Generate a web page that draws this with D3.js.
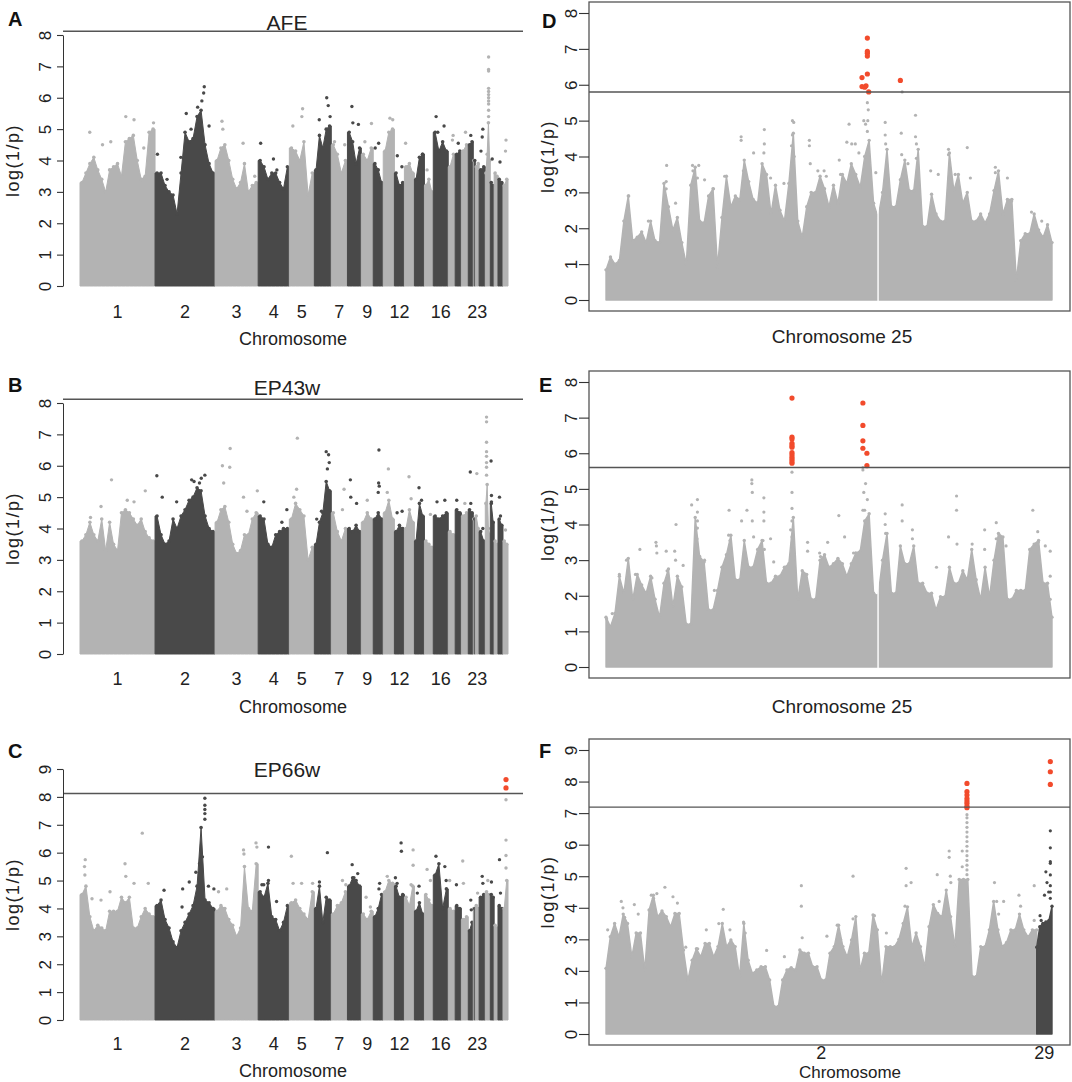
<!DOCTYPE html>
<html>
<head>
<meta charset="utf-8">
<script src="https://cdn.jsdelivr.net/npm/d3@7"></script>
<style>
body { margin: 0; background: #fff; }
text { font-family: "Liberation Sans", Arial, sans-serif; }
</style>
</head>
<body>
<svg id="fig" width="1072" height="1082"></svg>
<script>
// ---- genome wide panels (A-C) ----
const chroms = ["1","2","3","4","5","6","7","8","9","10","11","12","13","14","15","16","17","18","19","20","21","22","23","24","25","26","27","28","29"];
const chromLen = [195, 156, 112, 81, 65, 44, 42, 36, 31, 26, 29, 26, 26, 26, 23, 39, 18, 16, 18, 13, 2.6, 2.6, 10, 16, 13, 10, 10, 13, 13];
const shownChroms = ["1","2","3","4","5","7","9","12","16","23"];
const genomeThreshold = 8.12;

// top of the dense SNP cloud, evenly along each chromosome
const afeBand = [
  [3.3,3.6,3.9,4.1,3.7,3.4,3.0,3.7,3.8,3.9,3.5,4.6,4.7,4.8,4.0,3.4,3.5,4.9,5.0],
  [3.6,3.6,3.2,3.0,2.9,2.3,3.6,4.9,4.6,4.7,5.4,5.6,4.5,3.9,3.6],
  [4.0,4.4,4.5,4.0,3.4,3.1,3.3,3.9,3.0,3.2,3.3],
  [4.0,3.8,3.4,3.6,3.6,3.3,3.1,3.8],
  [4.4,4.3,4.0,4.6,2.9,3.6],
  [3.7,4.8,4.4,5.0,5.1],
  [4.5,4.2,3.6,4.0],
  [4.9,4.6,3.9,4.4],
  [4.2,4.0,4.4],
  [3.9,3.7,3.3],
  [4.3,4.9,5.0],
  [3.6,3.2,3.3],
  [3.8,3.9,3.6],
  [3.4,4.1,4.2],
  [3.2,3.4,3.0],
  [4.9,4.3,4.6,4.3],
  [3.8,4.2],[4.2,4.3],[4.3,4.5],[4.5,4.6],[4.0],[4.0],[3.8,3.9],[3.7,3.8],
  [3.6,4.2,5.2,4.0],
  [3.3,3.2],[3.6,3.5],[3.4,3.3],[3.2,3.4]
];
// single SNPs above the cloud: [chromosome, relative position, log(1/p)]
const afePeaks = [
  [1,0.13,4.9],[1,0.72,5.3],[1,0.61,5.4],[1,0.98,5.2],[1,0.41,4.6],[1,0.3,4.5],[1,0.85,4.4],
  [2,0.04,4.2],[2,0.52,5.5],[2,0.82,6.35],[2,0.81,6.15],[2,0.71,5.7],[2,0.78,5.9],[2,0.9,5.1],[2,0.43,4.1],[2,0.2,3.4],[2,0.6,5.0],
  [3,0.16,5.25],[3,0.18,5.0],[3,0.65,4.55],[3,0.92,3.5],
  [4,0.08,4.55],[4,0.49,4.05],[4,0.6,3.7],
  [5,0.14,5.1],[5,0.53,5.65],[5,0.5,5.4],
  [6,0.29,5.3],[6,0.73,6.0],[6,0.82,5.75],[6,0.93,5.4],
  [7,0.2,4.6],[7,0.83,4.5],
  [8,0.32,5.72],[8,0.39,5.2],[8,0.79,5.15],
  [9,0.85,5.18],[9,0.3,4.6],
  [10,0.54,4.55],[10,0.2,4.4],
  [11,0.6,5.35],[11,0.85,5.3],
  [12,0.29,4.15],[12,0.75,3.8],
  [13,0.12,4.55],[14,0.8,4.2],[15,0.3,3.7],
  [16,0.19,5.4],[16,0.72,5.1],[16,0.3,4.9],
  [17,0.7,4.8],[17,0.6,4.65],[18,0.5,4.55],[19,0.6,4.9],[20,0.5,4.8],
  [24,0.3,4.3],[24,0.6,5.0],[24,0.5,4.75],
  [25,0.66,7.3],[25,0.66,6.9],[25,0.66,6.85],[25,0.66,6.3],[25,0.66,6.2],[25,0.66,6.1],[25,0.66,6.0],[25,0.66,5.9],[25,0.66,5.8],[25,0.66,5.6],[25,0.66,5.4],
  [26,0.5,4.05],[28,0.4,3.95],[29,0.6,4.65],[29,0.5,4.3]
];

const ep43Band = [
  [3.6,3.8,4.2,3.8,3.6,4.3,3.3,4.2,3.5,3.3,4.5,4.6,4.5,4.3,4.1,4.3,3.9,3.7,3.6],
  [4.4,3.8,3.5,3.6,4.3,4.0,4.4,4.6,4.9,5.0,5.3,5.2,4.4,4.0,3.9],
  [4.2,4.6,4.7,4.2,3.5,3.2,3.3,3.8,3.8,4.3,4.5],
  [4.4,4.3,3.5,3.4,3.8,3.9,4.0,4.0],
  [4.3,4.8,4.6,4.4,3.0,3.4],
  [3.5,4.2,4.5,5.5,5.2],
  [4.5,3.9,3.6,4.0],
  [4.0,3.9,4.1,3.9],
  [4.2,4.5,4.3],
  [4.3,4.5,4.3],
  [4.5,4.9,4.3],
  [3.9,4.1,4.0],
  [4.0,4.6,4.2],
  [3.6,4.8,4.4],
  [3.6,3.5,3.4],
  [4.4,4.3,4.4,4.5],
  [3.9,3.8],[4.6,4.5],[4.4,4.5],[4.6,4.5],[4.3],[4.3],[4.4,4.0],[3.9,3.6],
  [4.8,5.4,4.0,3.8],
  [4.8,4.2],[3.6,3.5],[4.3,4.1],[3.6,3.5]
];
const ep43Peaks = [
  [1,0.42,5.55],[1,0.28,4.7],[1,0.87,5.2],[1,0.63,4.9],[1,0.72,4.85],[1,0.14,4.35],
  [2,0.03,5.68],[2,0.12,5.0],[2,0.36,4.85],[2,0.61,5.55],[2,0.65,5.5],[2,0.74,5.45],[2,0.83,5.7],[2,0.77,5.6],
  [3,0.35,6.55],[3,0.17,6.0],[3,0.34,5.95],[3,0.2,5.45],[3,0.66,5.0],[3,0.98,5.2],[3,0.74,4.55],
  [4,0.18,4.85],[4,0.92,4.6],[4,0.76,4.2],
  [5,0.29,5.25],[5,0.32,6.88],[5,0.18,5.0],
  [6,0.14,4.3],[6,0.7,6.45],[6,0.84,6.35],[6,0.88,6.1],[6,0.77,5.9],[6,0.42,4.55],
  [7,0.79,5.25],[7,0.69,4.6],
  [8,0.21,5.55],[8,0.24,5.0],[8,0.66,4.8],
  [9,0.5,4.9],
  [10,0.57,6.5],[10,0.54,5.45],[10,0.6,5.35],[10,0.5,5.15],
  [11,0.46,5.9],[11,0.36,5.15],
  [12,0.27,4.5],[12,0.77,4.55],
  [13,0.46,5.65],[13,0.67,4.95],
  [14,0.46,5.3],[14,0.71,4.9],
  [15,0.68,4.45],
  [16,0.25,4.85],[16,0.77,4.9],
  [18,0.25,4.9],[19,0.5,4.8],[20,0.4,5.8],[20,0.5,4.8],[23,0.4,5.75],[24,0.6,4.0],
  [25,0.25,7.55],[25,0.25,7.4],[25,0.25,6.75],[25,0.25,6.45],[25,0.25,6.3],[25,0.25,6.1],[25,0.25,5.95],[25,0.25,5.7],
  [26,0.2,6.15],[26,0.3,5.05],[26,0.3,4.85],
  [28,0.3,5.0],[28,0.5,4.4],[29,0.5,3.95]
];

const ep66Band = [
  [4.5,4.8,3.7,3.2,3.4,3.3,3.2,3.9,3.9,3.9,4.4,4.2,4.4,3.3,3.3,3.7,4.0,3.8,3.7],
  [4.1,4.3,3.6,3.3,2.8,2.6,3.2,3.5,3.8,4.1,4.8,6.9,4.3,4.2,4.0],
  [3.9,4.1,4.0,3.6,3.4,3.0,3.3,5.5,4.0,3.9,5.6],
  [4.6,4.4,4.9,3.7,3.6,3.2,3.5,4.1],
  [4.2,4.3,4.0,3.8,3.6,4.6],
  [4.0,4.8,3.5,4.4,4.3],
  [3.8,4.1,4.2,4.6],
  [4.8,5.1,5.0,4.8],
  [3.8,3.6,3.9],
  [3.7,4.0,4.5],
  [4.6,5.0,4.9],
  [4.8,4.4,4.5],
  [4.4,4.1,4.8],
  [3.9,4.2,3.8],
  [4.5,4.3,4.1],
  [5.2,5.6,4.0,4.7],
  [4.0,3.9],[4.1,4.0],[3.6,3.7],[3.2,3.5],[4.0],[4.0],[4.1,4.0],[4.4,4.5],
  [4.6,4.5],
  [4.5,4.4],[3.4,3.3],[4.1,4.0],[4.0,5.0]
];
const ep66Peaks = [
  [1,0.07,5.75],[1,0.06,5.5],[1,0.065,5.2],[1,0.28,4.3],[1,0.4,4.6],[1,0.6,5.6],[1,0.61,5.15],[1,0.72,4.9],[1,0.83,6.7],[1,0.91,4.9],[1,0.16,4.35],
  [2,0.15,4.65],[2,0.45,4.05],[2,0.46,4.7],[2,0.57,4.95],[2,0.68,5.3],[2,0.74,5.6],[2,0.79,5.85],[2,0.83,7.95],[2,0.83,7.7],[2,0.83,7.55],[2,0.83,7.4],[2,0.83,7.2],[2,0.89,4.8],[2,0.98,4.7],
  [3,0.66,6.1],[3,0.67,5.95],[3,0.95,6.35],[3,0.97,6.2],[3,0.27,4.7],[3,0.08,4.6],
  [4,0.33,6.2],[4,0.12,4.85],[4,0.18,4.85],[4,0.33,5.0],[4,0.59,4.25],
  [5,0.08,5.87],[5,0.15,4.9],[5,0.49,4.9],[5,0.93,4.9],
  [6,0.3,4.95],[6,0.77,6.0],
  [7,0.69,5.0],[7,0.9,4.85],
  [8,0.34,5.57],[8,0.74,5.25],[8,0.47,5.1],
  [9,0.4,4.4],[9,0.76,4.05],
  [10,0.64,4.9],[10,0.57,4.7],
  [11,0.36,5.15],
  [12,0.67,6.35],[12,0.7,6.05],[12,0.1,5.1],[12,0.27,4.9],
  [13,0.87,6.1],[13,0.87,5.55],[13,0.67,4.85],
  [14,0.46,4.8],[14,0.29,4.55],
  [15,0.3,5.4],[15,0.68,5.0],
  [16,0.18,5.87],[16,0.77,5.5],[16,0.86,5.0],
  [17,0.2,5.0],[18,0.2,4.85],[19,0.2,5.7],[19,0.3,4.9],[20,0.5,4.3],[20,0.6,3.95],
  [23,0.6,4.55],[24,0.5,5.15],[24,0.6,4.9],[25,0.5,5.0],[26,0.3,4.95],
  [28,0.3,5.75],[28,0.5,4.55],
  [29,0.6,7.9],[29,0.6,6.45],[29,0.6,5.9],[29,0.6,5.45]
];
const ep66Sig = [[29,0.6,8.62],[29,0.6,8.32]];

// ---- chromosome 25 close-ups (D, E), position in % of the chromosome ----
const c25Len = [100];
// top of the SNP cloud every 1 % of the chromosome
const dTops = [0.84,1.2,1.0,1.1,2.2,2.9,1.65,1.75,1.9,1.6,2.2,1.65,1.6,3.25,2.6,1.95,2.3,1.6,1.0,3.2,
  3.7,2.2,2.15,2.9,3.1,0.93,2.3,3.45,2.6,2.9,2.8,3.9,3.3,2.8,2.7,3.8,3.5,2.4,3.2,2.5,
  2.2,3.25,4.65,2.2,1.75,2.6,3.0,3.0,3.45,3.1,2.6,3.2,2.7,3.5,3.25,3.8,3.5,3.15,4.0,4.45,
  2.7,2.3,3.0,4.2,2.6,2.6,3.35,3.9,3.05,3.05,4.2,2.05,2.05,2.95,2.4,2.2,2.2,4.1,3.05,3.5,
  2.7,3.0,2.2,2.2,2.4,2.15,2.4,3.05,3.6,2.4,2.8,2.8,0.55,1.65,1.85,1.85,2.4,1.95,1.75,2.1,1.6];
const dStreak = [[5.1,2.9],[9.5,2.2],[13.5,3.3],[13.6,3.75],[13.5,3.1],[15.6,2.7],[19.4,3.75],[19.5,3.6],[20.8,3.75],[20.5,3.4],[22.1,3.35],[24.1,3.1],[26.6,3.45],[30.3,4.55],[30.3,4.45],[30.8,3.6],[33.1,4.1],[35.5,4.75],[35.5,4.35],[35.4,4.1],[36.9,3.4],[39.9,3.25],[41.8,5.0],[42.1,4.95],[41.8,4.6],[41.6,4.3],[42.2,4.0],[45.6,4.45],[45.6,4.3],[45.8,3.8],[47.5,3.6],[48.9,3.6],[49.4,3.45],[52.3,3.9],[52.6,3.5],[54.5,4.9],[54.0,4.4],[55.1,4.35],[55.9,4.35],[56.7,4.1],[57.8,5.0],[58.2,4.9],[58.6,5.5],[58.8,5.3],[58.7,5.0],[58.6,4.7],[60.5,3.55],[62.6,4.95],[62.6,4.6],[62.7,4.35],[63.1,3.5],[66.2,4.65],[66.3,4.05],[66.4,5.8],[67.7,3.8],[69.4,5.15],[69.4,4.55],[69.6,4.35],[69.6,3.95],[72.8,3.6],[74.5,3.5],[76.8,4.2],[76.8,4.05],[77.2,3.65],[78.3,3.5],[81.0,4.25],[81.7,3.4],[87.3,3.7],[87.3,3.55],[90.0,3.4],[90.9,2.75],[95.4,2.45],[97.7,2.2]];
const dSig = [[58.6,7.3],[58.6,6.93],[58.6,6.88],[58.6,6.8],[58.6,6.3],[57.4,6.2],[57.4,5.95],[58.0,5.93],[58.3,5.97],[58.9,5.8],[66.0,6.12]];
const dGaps = [61];

const eTops = [1.4,1.13,1.5,2.55,2.07,3.05,1.9,2.6,2.3,2.07,2.55,1.9,1.4,2.35,2.75,1.7,2.55,2.25,1.2,1.2,
  4.2,3.1,2.95,1.6,1.6,2.15,2.8,3.15,3.7,2.45,2.45,3.55,2.8,2.8,3.3,3.55,2.35,2.35,2.55,2.55,
  2.8,2.9,4.2,1.9,2.7,2.6,1.9,1.9,3.0,3.15,2.8,2.9,3.05,2.9,2.55,2.9,3.2,3.25,4.1,4.3,
  2.07,2.0,3.0,3.75,2.07,2.07,3.4,2.9,2.9,3.4,2.35,2.35,2.07,2.07,1.6,1.97,1.97,2.8,2.35,2.35,
  2.7,2.45,3.3,2.45,1.9,2.8,1.97,3.0,3.75,3.65,1.9,1.9,2.15,2.15,2.15,3.3,3.45,3.55,2.35,2.35,1.4];
const eStreak = [[0.15,1.35],[1.4,1.5],[3.0,2.6],[4.6,3.0],[6.6,2.6],[7.6,3.3],[10.3,2.5],[11.2,3.5],[11.3,3.4],[11.4,3.2],[13.5,3.25],[13.7,2.7],[15.4,3.25],[15.7,4.0],[15.6,3.0],[17.3,2.85],[19.2,4.55],[20.5,4.7],[20.5,4.35],[20.5,4.1],[20.5,3.9],[20.4,3.6],[22.1,3.0],[24.3,2.15],[27.5,3.7],[27.6,4.4],[27.8,3.55],[30.4,4.1],[31.6,4.4],[32.7,5.25],[32.7,5.15],[32.8,4.9],[32.8,4.1],[33.1,3.65],[35.4,4.75],[35.4,4.35],[35.4,4.1],[35.2,3.55],[35.5,3.3],[36.9,3.6],[37.6,2.95],[41.7,4.9],[41.7,4.45],[41.7,4.1],[41.4,3.85],[41.7,3.65],[41.8,3.5],[41.7,3.4],[41.7,5.47],[45.2,3.5],[45.2,3.25],[47.9,3.2],[48.1,3.1],[49.7,3.5],[52.2,4.25],[53.5,3.65],[55.5,3.2],[57.6,4.4],[57.8,4.9],[58.2,5.15],[58.0,4.4],[57.6,5.6],[57.6,5.53],[58.6,4.7],[62.6,4.3],[62.6,4.0],[62.7,3.75],[66.4,4.55],[66.4,4.1],[68.7,3.85],[68.7,3.6],[74.1,2.8],[76.8,3.65],[78.6,4.8],[78.6,4.4],[78.7,3.45],[82.1,3.45],[84.9,3.85],[84.9,3.3],[87.5,4.05],[87.5,3.6],[89.7,3.4],[95.7,4.4],[96.8,3.8],[96.9,3.5],[98.5,3.4],[99.6,3.25],[99.6,2.55],[99.6,1.9]];
const eSig = [[41.7,7.55],[41.7,6.45],[41.7,6.4],[41.7,6.28],[41.7,6.22],[41.7,6.17],[41.7,6.02],[41.7,5.96],[41.7,5.89],[41.7,5.83],[41.7,5.77],[41.7,5.72],[57.6,7.41],[57.6,6.78],[57.6,6.35],[57.6,6.14],[58.5,6.0],[58.5,5.65]];
const eGaps = [61];

// ---- chromosomes 2 and 29 (F), position in Mb ----
const fChroms = ["2","29"];
const fLen = [155, 5.5];
const fTops = [
  [2.08,3.08,3.5,3.08,3.8,3.5,2.45,3.2,3.2,2.03,3.93,4.4,3.72,3.9,3.72,3.4,3.82,3.82,2.66,1.71,
   2.34,2.7,2.45,2.87,2.87,2.45,2.77,3.5,2.77,2.98,2.77,1.82,3.5,2.34,1.92,2.03,2.13,2.13,1.71,0.87,
   0.87,1.71,2.03,2.1,2.03,2.66,2.56,2.56,2.13,2.13,1.71,1.71,2.56,2.77,3.45,2.77,2.45,2.98,3.72,2.03,
   2.56,2.56,3.77,3.3,1.6,2.77,2.77,2.77,3.0,3.5,4.03,2.77,3.2,2.77,2.13,3.4,4.1,3.82,3.72,4.56,
   3.72,2.77,4.9,4.9,4.9,1.82,1.82,2.77,2.77,3.3,4.2,3.3,2.77,2.9,3.3,3.3,3.8,3.3,3.08,3.3,3.3],
  [2.75,3.4,3.5,3.55,3.6,4.05]
];
const fStreak = [[0,0.6,3.3],[0,5.5,4.2],[0,6.1,4.0],[0,6.7,3.7],[0,10.2,4.1],[0,11.6,3.8],[0,16.3,4.4],[0,17.1,4.3],[0,18.3,4.45],[0,21.2,4.65],[0,24.1,4.35],[0,25.7,4.15],[0,28.7,2.75],[0,33.0,2.7],[0,36.1,3.3],[0,40.6,3.5],[0,42.2,3.95],[0,44.6,3.3],[0,49.5,3.55],[0,50.1,3.2],[0,57.8,2.65],[0,64.2,2.45],[0,70.3,4.7],[0,70.3,4.05],[0,70.6,3.05],[0,79.5,3.1],[0,83.2,3.45],[0,84.4,3.0],[0,88.9,5.0],[0,88.9,3.65],[0,96.6,3.75],[0,100.9,3.2],[0,107.6,4.05],[0,108.0,5.25],[0,108.0,4.7],[0,109.8,4.8],[0,119.2,5.05],[0,119.9,4.2],[0,123.5,5.8],[0,123.5,5.6],[0,123.9,5.0],[0,124.1,4.8],[0,128.2,5.8],[0,128.2,5.3],
  [0,129.9,6.95],[0,129.9,6.85],[0,129.9,6.7],[0,129.9,6.55],[0,129.9,6.4],[0,129.9,6.25],[0,129.9,6.1],[0,129.9,5.95],[0,129.9,5.8],[0,129.9,5.65],[0,129.9,5.5],[0,129.9,5.35],[0,129.9,5.2],[0,129.9,5.05],
  [0,139.8,4.8],[0,140.6,4.2],[0,141.3,3.8],[0,143.1,4.2],[0,148.6,4.4],[0,149.2,4.05],[0,154.1,4.7],[0,154.1,3.6],
  [1,1.2,3.75],[1,1.6,3.6],[1,2.8,4.4],[1,3.3,5.14],[1,3.7,4.8],[1,4.3,4.5],[1,4.9,6.44],[1,4.9,5.9],[1,4.9,5.46],[1,4.9,5.41],[1,4.9,5.04],[1,4.9,4.7],[1,4.9,4.5],[1,4.9,4.3]];
const fSig = [[0,129.9,7.94],[0,129.9,7.68],[0,129.9,7.57],[0,129.9,7.46],[0,129.9,7.38],[0,129.9,7.31],[0,129.9,7.22],[0,129.9,7.17],[1,4.9,8.63],[1,4.9,8.31],[1,4.9,7.91]];

var light = "#b3b3b3", dark = "#494949", red = "#f24b2c", ink = "#222";
function shade(i) { return i % 2 == 0 ? light : dark; }

var svg = d3.select("#fig");
svg.append("rect").attr("width", 1072).attr("height", 1082).attr("fill", "#fff");

function addText(g, txt, x, y, size, extra) {
  var t = g.append("text").attr("x", x).attr("y", y).attr("font-size", size)
    .attr("fill", ink).attr("text-anchor", "middle").text(txt);
  if (extra) extra(t);
  return t;
}

function rotatedAxis(g, y, x0, yMax, tick, keepDomain) {
  var ax = g.append("g").attr("transform", `translate(${x0},0)`)
    .call(d3.axisLeft(y).tickValues(d3.range(0, yMax + 1)).tickSize(tick).tickSizeOuter(0));
  ax.attr("color", "#333").attr("font-family", null).attr("font-size", null);
  if (!keepDomain) ax.select(".domain").remove();
  ax.selectAll(".tick line").attr("stroke-width", 1.1);
  ax.selectAll(".tick text").attr("x", null).attr("dy", null)
    .attr("text-anchor", "middle").attr("font-size", 17).attr("fill", ink)
    .attr("transform", "translate(-12,0) rotate(-90)");
}

function genomePanel(o) {
  var g = svg.append("g");
  var ends = d3.cumsum(chromLen);
  var x = d3.scaleLinear().domain([0, ends[ends.length - 1]]).range([80, 508]);
  var y = d3.scaleLinear().domain([0, o.yMax]).range([o.base, o.top]);
  var area = d3.area().x(d => x(d[0])).y0(y(0)).y1(d => y(d[1]));
  var posOf = (c, f) => ends[c] - chromLen[c] + f * chromLen[c];

  chroms.forEach(function(name, i) {
    var vals = o.band[i], n = vals.length;
    var pts = vals.map((v, k) => [posOf(i, (k + 0.5) / n), v]);
    var edge = [[posOf(i, 0), vals[0]]].concat(pts, [[posOf(i, 1), vals[n - 1]]]);
    g.append("path").datum(edge).attr("d", area).attr("fill", shade(i))
      .attr("stroke", shade(i)).attr("stroke-width", 1);
    g.append("g").selectAll("circle").data(pts).join("circle")
      .attr("cx", d => x(d[0])).attr("cy", d => y(d[1])).attr("r", 1.8).attr("fill", shade(i));
  });

  g.append("g").selectAll("circle").data(o.peaks).join("circle")
    .attr("cx", d => x(posOf(d[0] - 1, d[1]))).attr("cy", d => y(d[2]))
    .attr("r", 1.7).attr("fill", d => shade(d[0] - 1));
  g.append("g").selectAll("circle").data(o.sig || []).join("circle")
    .attr("cx", d => x(posOf(d[0] - 1, d[1]))).attr("cy", d => y(d[2]))
    .attr("r", 2.6).attr("fill", red);

  g.append("line").attr("x1", 63).attr("x2", 523)
    .attr("y1", y(genomeThreshold)).attr("y2", y(genomeThreshold))
    .attr("stroke", "#555").attr("stroke-width", 1.4);

  rotatedAxis(g, y, 63, o.yMax, 6, true);

  shownChroms.forEach(function(name) {
    var i = chroms.indexOf(name);
    addText(g, name, x(posOf(i, 0.5)), o.tickY, 18);
  });
  addText(g, "Chromosome", 293, o.xlabY, 18);
  addText(g, "log(1/p)", 0, 0, 18, t => t.attr("x", null).attr("y", null)
    .attr("letter-spacing", 1.5)
    .attr("transform", `translate(19,${(y(0) + y(o.yMax)) / 2}) rotate(-90)`));
  addText(g, o.title, 287, o.titleY, 21);
  addText(g, o.letter, 8, o.letterY, 20, t => t.attr("text-anchor", "start").attr("font-weight", "bold").attr("fill", "#111"));
}

function regionPanel(o) {
  var g = svg.append("g");
  var ends = d3.cumsum(o.lens);
  var x = d3.scaleLinear().domain([0, ends[ends.length - 1]]).range([606, 1052]);
  var y = d3.scaleLinear().domain([0, o.yMax]).range([o.base, o.top]);
  var area = d3.area().x(d => x(d[0])).y0(y(0)).y1(d => y(d[1]));
  var start = c => ends[c] - o.lens[c];

  // ragged top of the SNP cloud, sampled evenly along each chromosome
  o.tops.forEach(function(vals, i) {
    var pts = vals.map((v, k) => [start(i) + k * o.lens[i] / (vals.length - 1), v]);
    g.append("path").datum(pts).attr("d", area).attr("fill", shade(i))
      .attr("stroke", shade(i)).attr("stroke-width", 1.4).attr("stroke-linejoin", "round");
    g.append("g").selectAll("circle").data(pts).join("circle")
      .attr("cx", d => x(d[0])).attr("cy", d => y(d[1])).attr("r", 1.7).attr("fill", shade(i));
  });

  // thin stretches without markers
  g.append("g").selectAll("rect").data(o.gaps || []).join("rect")
    .attr("x", d => x(d) - 0.7).attr("width", 1.4)
    .attr("y", y(3.6)).attr("height", y(0) - y(3.6) + 3).attr("fill", "#fff");

  g.append("g").selectAll("circle").data(o.streak).join("circle")
    .attr("cx", d => x(start(d[0]) + d[1])).attr("cy", d => y(d[2]))
    .attr("r", 1.6).attr("fill", d => shade(d[0]));
  g.append("g").selectAll("circle").data(o.sig).join("circle")
    .attr("cx", d => x(start(d[0]) + d[1])).attr("cy", d => y(d[2]))
    .attr("r", 2.6).attr("fill", red);

  g.append("line").attr("x1", 589).attr("x2", 1070)
    .attr("y1", y(o.threshold)).attr("y2", y(o.threshold))
    .attr("stroke", "#555").attr("stroke-width", 1.4);
  g.append("rect").attr("x", 589).attr("y", o.boxTop)
    .attr("width", 1070 - 589).attr("height", o.boxBottom - o.boxTop)
    .attr("fill", "none").attr("stroke", "#555").attr("stroke-width", 1.3);

  rotatedAxis(g, y, 589, o.yMax, 10, false);

  (o.tickNames || []).forEach(function(name, i) {
    addText(g, name, x(start(i) + o.lens[i] / 2), o.tickY, 18);
  });
  addText(g, o.xlab, o.xlabX, o.xlabY, o.xlabSize || 19);
  addText(g, "log(1/p)", 0, 0, 18, t => t.attr("x", null).attr("y", null)
    .attr("letter-spacing", 1.5)
    .attr("transform", `translate(554,${(y(0) + y(o.yMax)) / 2}) rotate(-90)`));
  addText(g, o.letter, o.letterX, o.letterY, 20, t => t.attr("text-anchor", "start").attr("font-weight", "bold").attr("fill", "#111"));
}

const wrap = arr => arr.map(d => [0, d[0], d[1]]);

genomePanel({ band: afeBand, peaks: afePeaks, yMax: 8, base: 286, top: 35,
  title: "AFE", titleY: 30, letter: "A", letterY: 26, tickY: 318, xlabY: 345 });
genomePanel({ band: ep43Band, peaks: ep43Peaks, yMax: 8, base: 654, top: 403,
  title: "EP43w", titleY: 395, letter: "B", letterY: 392, tickY: 685, xlabY: 713 });
genomePanel({ band: ep66Band, peaks: ep66Peaks, sig: ep66Sig, yMax: 9, base: 1020, top: 769,
  title: "EP66w", titleY: 777, letter: "C", letterY: 758, tickY: 1050, xlabY: 1077 });

regionPanel({ lens: c25Len, tops: [dTops], streak: wrap(dStreak), sig: wrap(dSig), gaps: dGaps,
  yMax: 8, base: 300, top: 13, boxTop: 2, boxBottom: 311, threshold: 5.8,
  xlab: "Chromosome 25", xlabX: 842, xlabY: 343, letter: "D", letterX: 542, letterY: 28 });
regionPanel({ lens: c25Len, tops: [eTops], streak: wrap(eStreak), sig: wrap(eSig), gaps: eGaps,
  yMax: 8, base: 667, top: 382, boxTop: 371, boxBottom: 678, threshold: 5.6,
  xlab: "Chromosome 25", xlabX: 842, xlabY: 713, letter: "E", letterX: 539, letterY: 392 });
regionPanel({ lens: fLen, tops: fTops, streak: fStreak, sig: fSig, tickNames: fChroms, tickY: 1059,
  yMax: 9, base: 1034, top: 750, boxTop: 739, boxBottom: 1045, threshold: 7.19,
  xlab: "Chromosome", xlabX: 850, xlabY: 1078, xlabSize: 17, letter: "F", letterX: 539, letterY: 758 });
</script>
</body>
</html>
